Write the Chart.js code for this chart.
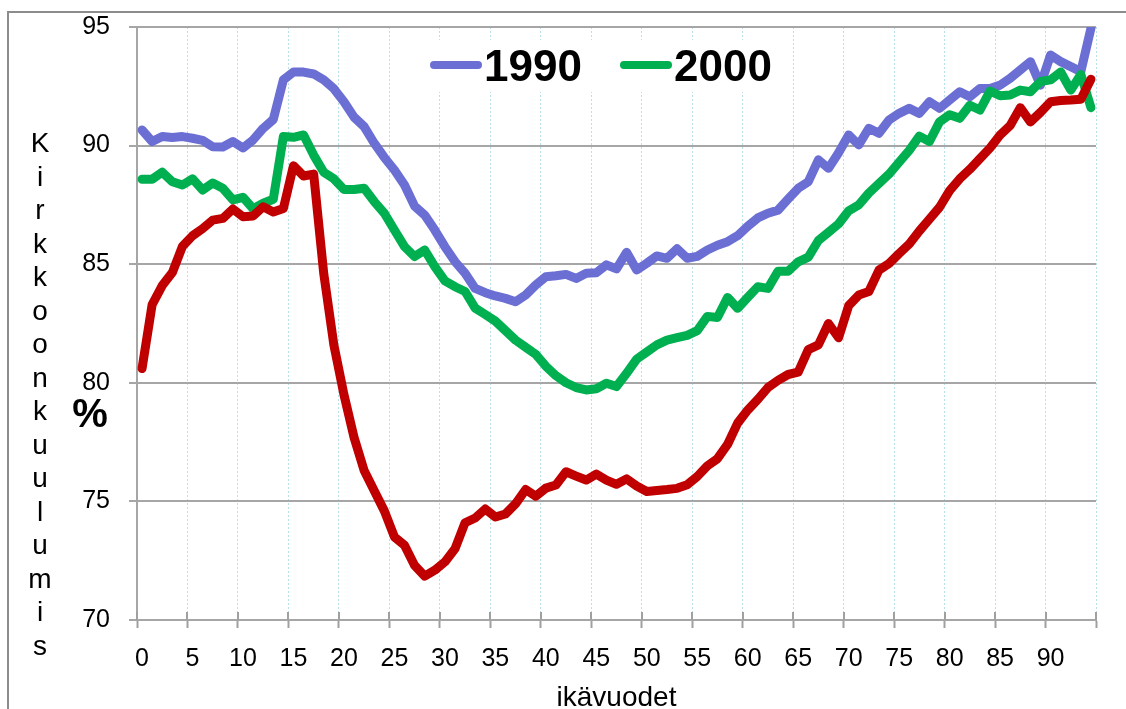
<!DOCTYPE html>
<html>
<head>
<meta charset="utf-8">
<script src="https://cdn.jsdelivr.net/npm/chart.js@4/dist/chart.umd.min.js"></script>
<style>
  html, body { margin: 0; padding: 0; background: #fff; }
  canvas { display: block; }
</style>
</head>
<body>
<canvas id="chart" width="1126" height="709"></canvas>
<script>
// ages 0..94
const ages = [
  0, 1, 2, 3, 4, 5, 6, 7, 8, 9, 10, 11, 12, 13, 14, 15, 16, 17, 18, 19,
  20, 21, 22, 23, 24, 25, 26, 27, 28, 29, 30, 31, 32, 33, 34, 35, 36, 37, 38, 39,
  40, 41, 42, 43, 44, 45, 46, 47, 48, 49, 50, 51, 52, 53, 54, 55, 56, 57, 58, 59,
  60, 61, 62, 63, 64, 65, 66, 67, 68, 69, 70, 71, 72, 73, 74, 75, 76, 77, 78, 79,
  80, 81, 82, 83, 84, 85, 86, 87, 88, 89, 90, 91, 92, 93, 94
];
const xTickLabels = ['0', '5', '10', '15', '20', '25', '30', '35', '40', '45',
  '50', '55', '60', '65', '70', '75', '80', '85', '90'];

const share1990 = [
  90.66, 90.17, 90.38, 90.34, 90.38, 90.31, 90.22, 89.95, 89.94, 90.17,
  89.90, 90.24, 90.73, 91.10, 92.77, 93.10, 93.10, 93.02, 92.77, 92.40,
  91.85, 91.20, 90.80, 90.10, 89.50, 88.97, 88.34, 87.45, 87.07, 86.44,
  85.74, 85.11, 84.62, 83.98, 83.80, 83.66, 83.56, 83.42, 83.70, 84.12,
  84.47, 84.51, 84.57, 84.40, 84.62, 84.64, 84.97, 84.80, 85.50, 84.76,
  85.04, 85.35, 85.25, 85.65, 85.25, 85.33, 85.60, 85.80, 85.95, 86.20,
  86.60, 86.95, 87.15, 87.28, 87.75, 88.20, 88.48, 89.40, 89.04, 89.70,
  90.45, 90.03, 90.73, 90.52, 91.08, 91.36, 91.57, 91.36, 91.85, 91.57,
  91.92, 92.27, 92.06, 92.41, 92.41, 92.55, 92.84, 93.19, 93.54, 92.55,
  93.82, 93.54, 93.33, 93.12, 94.95
];
const share2000 = [
  88.58, 88.58, 88.88, 88.48, 88.34, 88.60, 88.13, 88.42, 88.20, 87.71,
  87.82, 87.34, 87.57, 87.74, 90.38, 90.35, 90.45, 89.60, 88.88, 88.60,
  88.15, 88.15, 88.20, 87.64, 87.15, 86.44, 85.74, 85.32, 85.60, 84.90,
  84.30, 84.05, 83.85, 83.15, 82.88, 82.60, 82.20, 81.80, 81.50, 81.20,
  80.70, 80.30, 80.00, 79.80, 79.70, 79.75, 79.98, 79.84, 80.40, 81.00,
  81.30, 81.60, 81.80, 81.90, 82.00, 82.20, 82.80, 82.75, 83.60, 83.14,
  83.60, 84.05, 83.98, 84.70, 84.70, 85.10, 85.30, 86.00, 86.35, 86.70,
  87.25, 87.50, 88.00, 88.40, 88.80, 89.30, 89.80, 90.40, 90.17, 91.00,
  91.30, 91.15, 91.70, 91.50, 92.30, 92.10, 92.13, 92.34, 92.27, 92.70,
  92.77, 93.10, 92.34, 93.00, 91.60
];
// third series (red), not in the legend
const shareRed = [
  80.60, 83.30, 84.10, 84.65, 85.75, 86.20, 86.50, 86.86, 86.93, 87.33,
  87.00, 87.03, 87.42, 87.20, 87.35, 89.15, 88.72, 88.80, 84.60, 81.60,
  79.50, 77.70, 76.30, 75.45, 74.60, 73.50, 73.15, 72.30, 71.85, 72.10,
  72.45, 73.00, 74.10, 74.30, 74.68, 74.34, 74.47, 74.90, 75.50, 75.22,
  75.56, 75.69, 76.25, 76.07, 75.90, 76.15, 75.90, 75.72, 75.95, 75.65,
  75.42, 75.46, 75.50, 75.55, 75.70, 76.05, 76.50, 76.80, 77.40, 78.30,
  78.85, 79.30, 79.80, 80.10, 80.35, 80.45, 81.40, 81.60, 82.50, 81.90,
  83.25, 83.70, 83.85, 84.75, 85.03, 85.45, 85.85, 86.40, 86.90, 87.40,
  88.10, 88.60, 89.00, 89.45, 89.90, 90.45, 90.85, 91.60, 91.00, 91.40,
  91.85, 91.90, 91.92, 91.95, 92.80
];

const yTitle = 'Kirkkoonkuulumis';
const yUnit = '%';
const xTitle = 'ikävuodet';

const FONT = '"Liberation Sans", Arial, sans-serif';
const BLUE = '#6b6fd3';
const GREEN = '#00b050';
const RED = '#c00000';

const every5 = c => c.index === undefined || c.index % 5 === 0;

const decorations = {
  id: 'decorations',
  beforeDraw(chart) {
    const ctx = chart.ctx;
    ctx.save();
    ctx.fillStyle = '#fff';
    ctx.fillRect(0, 0, chart.width, chart.height);
    ctx.strokeStyle = '#8c8c8c';
    ctx.lineWidth = 2;
    ctx.strokeRect(8, 12, chart.width + 40, chart.height + 40);
    ctx.restore();
  },
  afterDraw(chart) {
    const ctx = chart.ctx;
    const area = chart.chartArea;
    ctx.save();
    ctx.fillStyle = '#000';

    // stacked y title
    ctx.font = '28px ' + FONT;
    ctx.textAlign = 'center';
    ctx.textBaseline = 'alphabetic';
    for (let i = 0; i < yTitle.length; i++) {
      ctx.fillText(yTitle[i], 40, 152 + i * 33.5);
    }
    ctx.font = 'bold 40px ' + FONT;
    ctx.fillText(yUnit, 90, 427);

    // x title
    ctx.font = '28px ' + FONT;
    ctx.fillText(xTitle, (area.left + area.right) / 2, 706);

    // x tick marks poke up into the plot a bit, like the original
    const xs = chart.scales.x;
    const half = (xs.getPixelForValue(1) - xs.getPixelForValue(0)) / 2;
    ctx.strokeStyle = '#a0a0a0';
    ctx.lineWidth = 2;
    for (let i = 0; i <= ages.length; i += 5) {
      const px = Math.round(xs.getPixelForValue(i) - half);
      ctx.beginPath();
      ctx.moveTo(px, area.bottom - 8);
      ctx.lineTo(px, area.bottom);
      ctx.stroke();
    }

    // legend (only first two series)
    ctx.fillStyle = '#fff';
    ctx.fillRect(424, 40, 356, 52);
    const items = [
      { ds: chart.data.datasets[0], x: 430 },
      { ds: chart.data.datasets[1], x: 620 }
    ];
    ctx.font = 'bold 44px ' + FONT;
    ctx.textAlign = 'left';
    items.forEach(it => {
      ctx.strokeStyle = it.ds.borderColor;
      ctx.lineWidth = 8;
      ctx.lineCap = 'round';
      ctx.beginPath();
      ctx.moveTo(it.x + 4, 65);
      ctx.lineTo(it.x + 48, 65);
      ctx.stroke();
      ctx.fillStyle = '#000';
      ctx.fillText(it.ds.label, it.x + 54, 81);
    });
    ctx.restore();
  }
};

new Chart(document.getElementById('chart'), {
  type: 'line',
  data: {
    labels: ages,
    datasets: [
      { label: '1990', data: share1990, borderColor: BLUE, order: 3 },
      { label: '2000', data: share2000, borderColor: GREEN, order: 2 },
      { label: '', data: shareRed, borderColor: RED, order: 1 }
    ]
  },
  options: {
    responsive: false,
    animation: false,
    devicePixelRatio: 1,
    layout: { padding: { top: 27, right: 30, left: 0, bottom: 0 } },
    plugins: { legend: { display: false }, title: { display: false }, tooltip: { enabled: false } },
    elements: {
      point: { radius: 0 },
      line: { borderWidth: 9, tension: 0, borderJoinStyle: 'round', borderCapStyle: 'round', fill: false }
    },
    scales: {
      x: {
        type: 'category',
        offset: true,
        grid: {
          offset: true,
          color: c => every5(c) ? '#b8e0e8' : 'rgba(0,0,0,0)',
          lineWidth: 1,
          tickLength: 8,
          tickWidth: 2,
          tickBorderDash: [],
          tickColor: c => every5(c) ? '#a0a0a0' : 'rgba(0,0,0,0)'
        },
        border: { color: '#a6a6a6', width: 2, dash: [2, 2] },
        ticks: {
          autoSkip: false,
          maxRotation: 0,
          padding: 16,
          color: '#000',
          font: { size: 25, family: FONT },
          callback: (v, i) => i % 5 === 0 ? xTickLabels[i / 5] : ''
        },
        afterFit: s => { s.height = 89; }
      },
      y: {
        min: 70,
        max: 95,
        ticks: { stepSize: 5, padding: 19, color: '#000', font: { size: 25, family: FONT } },
        grid: { color: '#a6a6a6', lineWidth: 2, tickLength: 8, tickColor: '#a6a6a6' },
        border: { color: '#a6a6a6', width: 2 },
        afterFit: s => {
          s.width = 137;
          s.paddingTop = 15;
          s.paddingBottom = 15;
        }
      }
    }
  },
  plugins: [decorations]
});
</script>
</body>
</html>
